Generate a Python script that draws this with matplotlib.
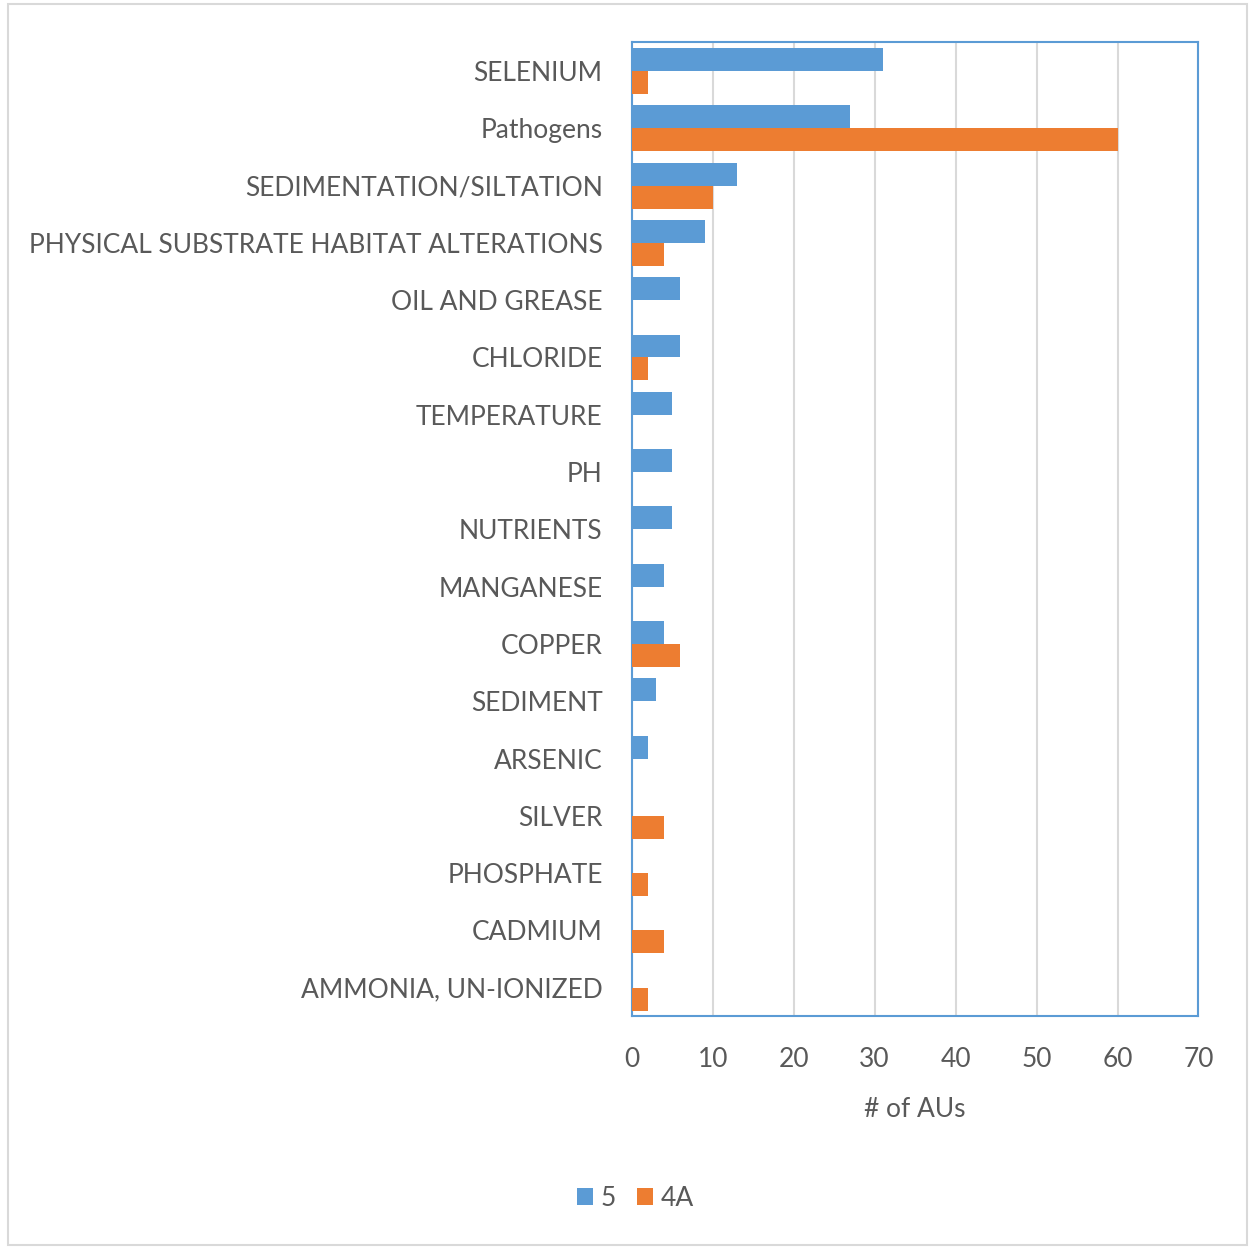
import matplotlib.pyplot as plt
import numpy as np
from matplotlib.patches import Rectangle

categories = ["SELENIUM", "Pathogens", "SEDIMENTATION/SILTATION",
              "PHYSICAL SUBSTRATE HABITAT ALTERATIONS", "OIL AND GREASE",
              "CHLORIDE", "TEMPERATURE", "PH", "NUTRIENTS", "MANGANESE",
              "COPPER", "SEDIMENT", "ARSENIC", "SILVER", "PHOSPHATE",
              "CADMIUM", "AMMONIA, UN-IONIZED"]
cat5 = [31, 27, 13, 9, 6, 6, 5, 5, 5, 4, 4, 3, 2, 0, 0, 0, 0]
cat4a = [2, 60, 10, 4, 0, 2, 0, 0, 0, 0, 6, 0, 0, 4, 2, 4, 2]

plt.rcParams['font.family'] = ['Lato', 'DejaVu Sans']
gray = "#595959"
blue = "#5B9BD5"
orange = "#ED7D31"

fig = plt.figure(figsize=(12.51, 12.47), dpi=100)
fig.patches.append(Rectangle((0.006, 0.002), 0.991, 0.995, transform=fig.transFigure,
                             fill=False, edgecolor="#D9D9D9", linewidth=1.5))
ax = fig.add_axes([0.505, 0.185, 0.453, 0.781])

y = np.arange(len(categories))
h = 0.4
ax.barh(y - h / 2, cat5, height=h, color=blue, label="5", zorder=3)
ax.barh(y + h / 2, cat4a, height=h, color=orange, label="4A", zorder=3)

ax.set_ylim(len(categories) - 0.5, -0.5)
ax.set_xlim(0, 70)
ax.set_xticks(range(0, 71, 10))
ax.set_yticks(y)
ax.set_yticklabels(categories)
ax.grid(axis="x", color="#D9D9D9", linewidth=1.5, zorder=0)
for s in ax.spines.values():
    s.set_color(blue)
    s.set_linewidth(1.5)
ax.tick_params(length=0, labelsize=19, colors=gray)
ax.tick_params(axis="y", pad=21)
ax.tick_params(axis="x", pad=22)
ax.set_xlabel("# of AUs", fontsize=19, color=gray, labelpad=18)

leg = fig.legend(loc="center", bbox_to_anchor=(0.508, 0.039), ncol=2, frameon=False,
                 fontsize=19, handlelength=0.6, handleheight=0.6, handletextpad=0.3,
                 columnspacing=0.8)
for t in leg.get_texts():
    t.set_color(gray)

fig.savefig("out.png")
